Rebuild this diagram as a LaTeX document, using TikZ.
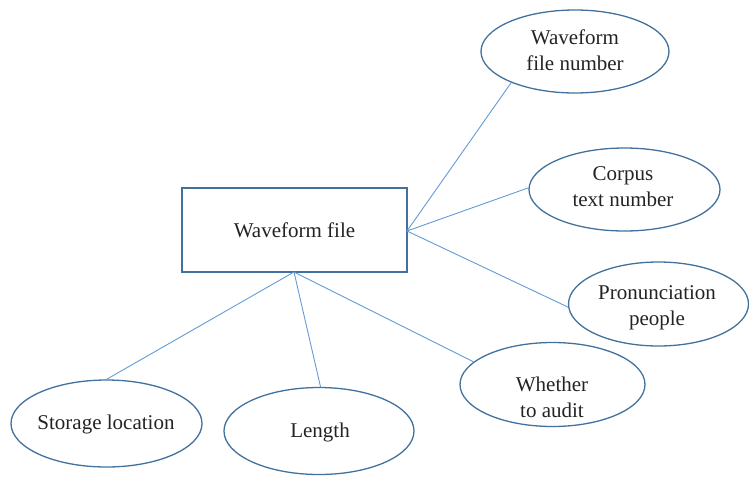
\documentclass[tikz,border=0pt]{standalone}
\usepackage{fontspec}
\setmainfont{Liberation Serif}
\usetikzlibrary{shapes.geometric}
\definecolor{edgeblue}{RGB}{65,113,156}
\definecolor{linkblue}{RGB}{100,155,213}
\definecolor{inkgray}{RGB}{35,35,35}
\begin{document}
\begin{tikzpicture}[x=1pt,y=-1pt,
  attr/.style={draw=edgeblue,line width=1.3pt,ellipse,inner sep=0pt},
  entity/.style={draw=edgeblue,line width=1.2pt,rectangle,inner sep=0pt,
    minimum width=225pt,minimum height=84pt,
    font=\fontsize{21}{26}\selectfont,text=inkgray},
  caption/.style={font=\fontsize{21}{26}\selectfont,text=inkgray,align=center,inner sep=0pt},
  link/.style={draw=linkblue,line width=0.9pt}]
\useasboundingbox (0,0) rectangle (749,477);

% central entity
\node[entity] (wf) at (294.5,230) {Waveform file};

% attribute ellipses
\node[attr,minimum width=188pt,minimum height=83pt] (e1) at (575,51.5) {};
\node[attr,minimum width=191pt,minimum height=83pt] (e2) at (624.5,189.5) {};
\node[attr,minimum width=180pt,minimum height=84pt] (e3) at (658.5,304) {};
\node[attr,minimum width=185pt,minimum height=84pt] (e4) at (552.5,384.5) {};
\node[attr,minimum width=191pt,minimum height=87pt] (e5) at (106.5,423.5) {};
\node[attr,minimum width=190pt,minimum height=87pt] (e6) at (319,431) {};

% attribute texts
\node[caption] (t1) at (575,50) {Waveform\\file number};
\node[caption] (t2) at (623,187) {Corpus\\text number};
\node[caption] (t3) at (657,308) {Pronunciation\\people};
\node[caption] (t4) at (552,397) {Whether\\to audit};
\node[caption] (t5) at (106,424) {Storage location};
\node[caption] (t6) at (320,432) {Length};

% connectors
\coordinate (wfr) at (407,231);
\coordinate (wfb) at (294,272);
\draw[link] (wfr) -- (e1.206);
\draw[link] (wfr) -- (e2.179);
\draw[link] (wfr) -- (e3.182.5);
\draw[link] (wfb) -- (e4.164);
\draw[link] (wfb) -- (e5.90);
\draw[link] (wfb) -- (e6.88);
\end{tikzpicture}
\end{document}
